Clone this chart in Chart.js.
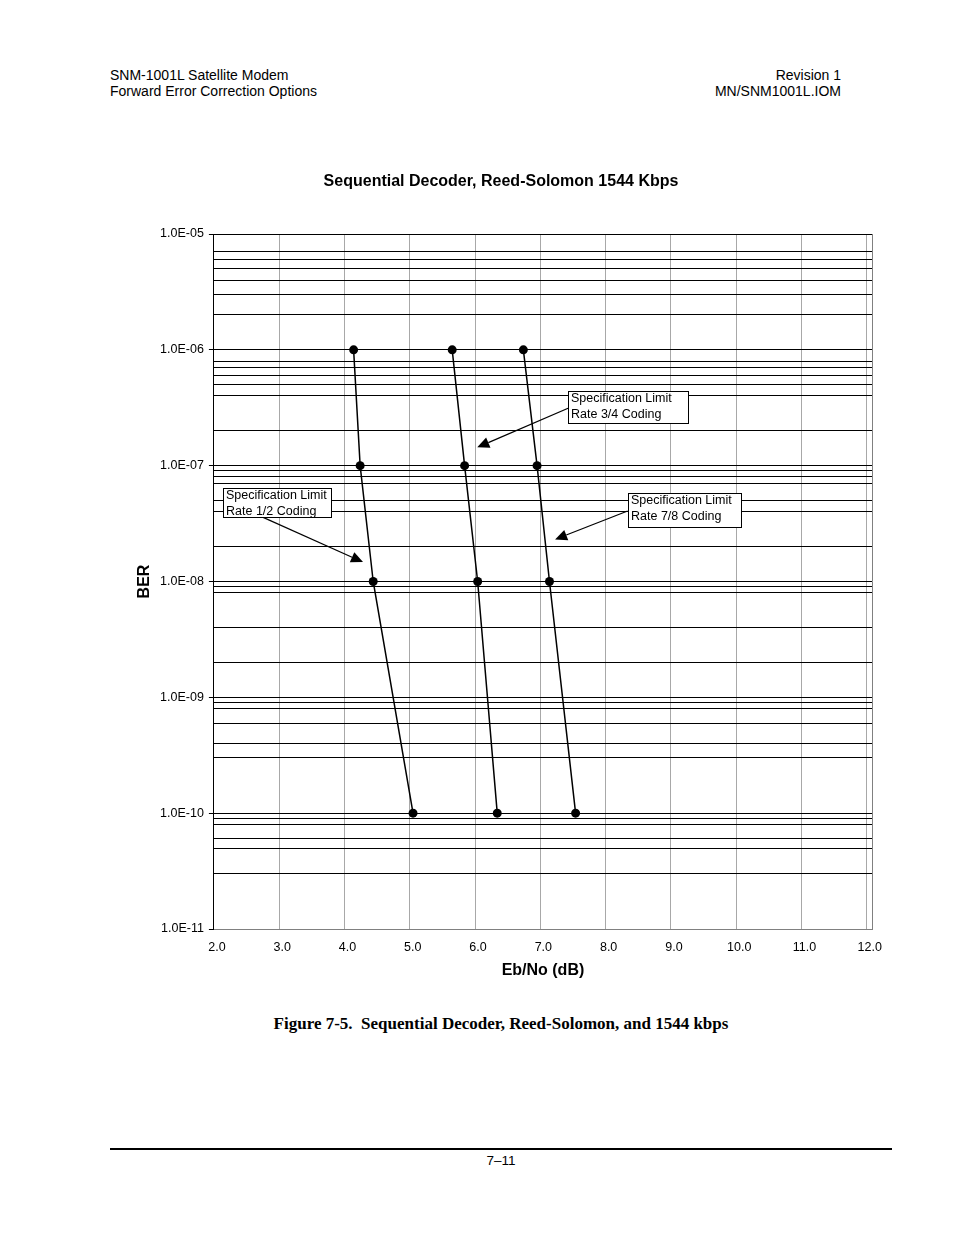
<!DOCTYPE html>
<html>
<head>
<meta charset="utf-8">
<title>Sequential Decoder, Reed-Solomon 1544 Kbps</title>
<script src="https://cdn.jsdelivr.net/npm/chart.js@4.4.0/dist/chart.umd.min.js"></script>
<style>
  html, body { margin: 0; padding: 0; background: #fff; }
  body { width: 954px; height: 1235px; position: relative; font-family: "Liberation Sans", Arial, sans-serif; color: #000; }
  .hdr { position: absolute; top: 67px; font-size: 14px; line-height: 16px; }
  #chartBox { position: absolute; left: 0; top: 160px; width: 954px; height: 840px; }
  .caption { position: absolute; top: 1014px; left: 501px; transform: translateX(-50%); white-space: pre;
             font-family: "Liberation Serif", "Times New Roman", serif; font-weight: bold; font-size: 17px; line-height: 20px; }
  .rule { position: absolute; left: 110px; top: 1148px; width: 782px; height: 2px; background: #000; }
  .pageno { position: absolute; top: 1153px; left: 501px; transform: translateX(-50%); font-size: 13.5px; line-height: 15px; }
</style>
</head>
<body>
<div class="hdr" style="left:110px;">SNM-1001L Satellite Modem<br>Forward Error Correction Options</div>
<div class="hdr" style="right:113px; text-align:right;">Revision 1<br>MN/SNM1001L.IOM</div>

<div id="chartBox"><canvas id="chart"></canvas></div>

<div class="caption">Figure 7-5.  Sequential Decoder, Reed-Solomon, and 1544 kbps</div>
<div class="rule"></div>
<div class="pageno">7–11</div>

<script>
// BER levels where each curve was measured
const berLevels = [1e-6, 1e-7, 1e-8, 1e-10];

// Eb/No (dB) for each rate
const ebnoRate12 = [4.14, 4.24, 4.44, 5.05];
const ebnoRate34 = [5.65, 5.84, 6.04, 6.34];
const ebnoRate78 = [6.74, 6.95, 7.14, 7.54];

// axis ticks
const xTicks = [2, 3, 4, 5, 6, 7, 8, 9, 10, 11, 12];
const yDecades = [1e-5, 1e-6, 1e-7, 1e-8, 1e-9, 1e-10, 1e-11];
// horizontal rules between decades, as they appear on the sheet
const yMinorLines = [
  7e-6, 6e-6, 5e-6, 4e-6, 3e-6, 2e-6,
  8e-7, 7e-7, 6e-7, 5e-7, 4e-7, 2e-7,
  9e-8, 8e-8, 7e-8, 5e-8, 4e-8, 2e-8,
  9e-9, 8e-9, 4e-9, 2e-9,
  9e-10, 8e-10, 6e-10, 4e-10, 3e-10,
  9e-11, 8e-11, 6e-11, 5e-11, 3e-11
];

// callout boxes: corners and arrow in data units
const callouts = [
  { lines: ['Specification Limit', 'Rate 1/2 Coding'], x1: 2.144, x2: 3.793, y1: 6.37e-8, y2: 3.58e-8,
    from: [2.754, 3.58e-8], to: [4.284, 1.47e-8] },
  { lines: ['Specification Limit', 'Rate 3/4 Coding'], x1: 7.425, x2: 9.268, y1: 4.41e-7, y2: 2.32e-7,
    from: [7.425, 3.13e-7], to: [6.034, 1.44e-7] },
  { lines: ['Specification Limit', 'Rate 7/8 Coding'], x1: 8.337, x2: 10.066, y1: 5.77e-8, y2: 2.97e-8,
    from: [8.337, 4.06e-8], to: [7.226, 2.31e-8] }
];

const FONT = '"Liberation Sans", Arial, sans-serif';

function isDecade(v) {
  const e = Math.log10(v);
  return Math.abs(e - Math.round(e)) < 1e-9;
}
function sciLabel(v) {
  const e = Math.round(Math.log10(v));
  const s = String(Math.abs(e)).padStart(2, '0');
  return '1.0E' + (e < 0 ? '-' : '+') + s;
}

function series(xs) {
  return {
    data: xs.map((x, i) => ({ x: x, y: berLevels[i] })),
    borderColor: '#000',
    backgroundColor: '#000',
    borderWidth: 1.5,
    pointRadius: 4.5,
    pointBackgroundColor: '#000',
    pointBorderWidth: 0,
    tension: 0,
    fill: false
  };
}

const calloutPlugin = {
  id: 'callouts',
  afterDatasetsDraw(chart) {
    const { ctx, scales: { x, y }, chartArea } = chart;
    ctx.save();
    // right edge of the plot frame
    ctx.strokeStyle = '#808080';
    ctx.lineWidth = 1;
    ctx.beginPath();
    ctx.moveTo(Math.round(chartArea.right) + 0.5, chartArea.top);
    ctx.lineTo(Math.round(chartArea.right) + 0.5, chartArea.bottom);
    ctx.stroke();

    callouts.forEach(c => {
      const l = Math.round(x.getPixelForValue(c.x1)) + 0.5;
      const r = Math.round(x.getPixelForValue(c.x2)) + 0.5;
      const t = Math.round(y.getPixelForValue(c.y1)) + 0.5;
      const b = Math.round(y.getPixelForValue(c.y2)) + 0.5;

      // arrow
      const fx = x.getPixelForValue(c.from[0]), fy = y.getPixelForValue(c.from[1]);
      const tx = x.getPixelForValue(c.to[0]), ty = y.getPixelForValue(c.to[1]);
      const ang = Math.atan2(ty - fy, tx - fx);
      const head = 12, half = 5.5;
      const bx = tx - head * Math.cos(ang), by = ty - head * Math.sin(ang);
      ctx.strokeStyle = '#000';
      ctx.lineWidth = 1.2;
      ctx.beginPath();
      ctx.moveTo(fx, fy);
      ctx.lineTo(bx, by);
      ctx.stroke();
      ctx.fillStyle = '#000';
      ctx.beginPath();
      ctx.moveTo(tx, ty);
      ctx.lineTo(bx + half * Math.sin(ang), by - half * Math.cos(ang));
      ctx.lineTo(bx - half * Math.sin(ang), by + half * Math.cos(ang));
      ctx.closePath();
      ctx.fill();

      // box
      ctx.fillStyle = '#fff';
      ctx.fillRect(l, t, r - l, b - t);
      ctx.lineWidth = 1;
      ctx.strokeStyle = '#000';
      ctx.strokeRect(l, t, r - l, b - t);
      ctx.fillStyle = '#000';
      ctx.font = '12.5px ' + FONT;
      ctx.textBaseline = 'middle';
      ctx.textAlign = 'left';
      ctx.fillText(c.lines[0], l + 2.5, t + 7.5);
      ctx.fillText(c.lines[1], l + 2.5, t + 23);
    });
    ctx.restore();
  }
};

new Chart(document.getElementById('chart').getContext('2d'), {
  type: 'line',
  data: {
    datasets: [series(ebnoRate12), series(ebnoRate34), series(ebnoRate78)]
  },
  options: {
    responsive: true,
    maintainAspectRatio: false,
    animation: false,
    events: [],
    layout: { padding: { left: 130, right: 82, top: 0, bottom: 0 } },
    plugins: {
      legend: { display: false },
      tooltip: { enabled: false },
      title: {
        display: true,
        text: 'Sequential Decoder, Reed-Solomon 1544 Kbps',
        color: '#000',
        font: { family: FONT, size: 16, weight: 'bold' },
        padding: { top: 12, bottom: 42.8 }
      }
    },
    scales: {
      x: {
        type: 'linear',
        min: 2,
        max: 12.08,
        afterBuildTicks: s => { s.ticks = xTicks.map(v => ({ value: v })); },
        afterFit: s => { s.height = 71; },
        ticks: {
          color: '#000',
          font: { family: FONT, size: 12.5 },
          padding: 11,
          labelOffset: 3,
          maxRotation: 0,
          callback: v => Number(v).toFixed(1)
        },
        grid: {
          drawTicks: false,
          lineWidth: 1,
          color: ctx => (ctx.tick && ctx.tick.value === 2) ? 'rgba(0,0,0,0)' : '#a8a8a8'
        },
        border: { color: '#808080', width: 1 },
        title: {
          display: true,
          text: 'Eb/No (dB)',
          color: '#000',
          font: { family: FONT, size: 16, weight: 'bold' },
          padding: { top: 0, bottom: 19.4 }
        }
      },
      y: {
        type: 'logarithmic',
        min: 1e-11,
        max: 1e-5,
        afterBuildTicks: s => {
          s.ticks = yDecades.concat(yMinorLines).sort((a, b) => b - a).map(v => ({ value: v, major: isDecade(v) }));
        },
        afterFit: s => { s.width = 83.9; },
        ticks: {
          color: '#000',
          font: { family: FONT, size: 12.5 },
          padding: 5,
          autoSkip: false,
          callback: v => isDecade(v) ? sciLabel(v) : ''
        },
        grid: {
          lineWidth: 1,
          tickLength: 5,
          color: ctx => (ctx.tick && Math.abs(ctx.tick.value - 1e-11) < 1e-20) ? 'rgba(0,0,0,0)' : '#000',
          tickColor: ctx => (ctx.tick && isDecade(ctx.tick.value)) ? '#000' : 'rgba(0,0,0,0)'
        },
        border: { color: '#000', width: 1 },
        title: {
          display: true,
          text: 'BER',
          color: '#000',
          font: { family: FONT, size: 16, weight: 'bold' },
          padding: { top: 5, bottom: 0 }
        }
      }
    }
  },
  plugins: [calloutPlugin]
});
</script>
</body>
</html>
